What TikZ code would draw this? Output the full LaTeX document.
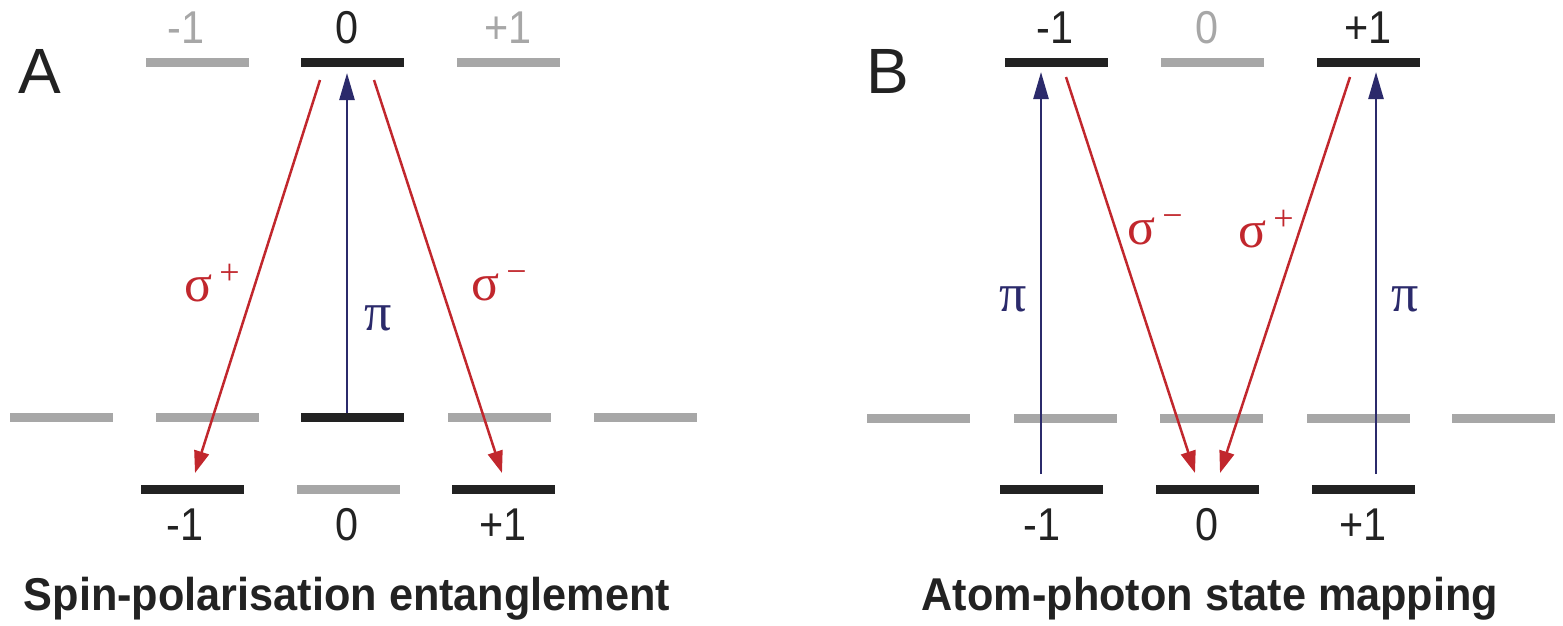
\documentclass[tikz,border=0pt]{standalone}
\usepackage{fontspec}
\setmainfont{Liberation Sans}
\newfontfamily\narrowsans[FakeStretch=0.9]{Liberation Sans}
\newfontfamily\grk{Liberation Serif}
\usetikzlibrary{arrows.meta}
\definecolor{lvgray}{HTML}{A7A7A7}
\definecolor{lvblack}{HTML}{222222}
\definecolor{arred}{HTML}{C1272D}
\definecolor{arblue}{HTML}{2B2A6B}
\newcommand{\sig}[1]{{\grk\fontsize{52}{52}\selectfont σ\hspace{7pt}\raisebox{17pt}{\fontsize{36}{36}\selectfont #1}}}
\tikzset{
  lvl/.style={draw=none, fill=#1, minimum width=103pt, minimum height=9pt, inner sep=0pt, outer sep=0pt},
  lvl/.default=lvblack,
  mlab/.style={font=\narrowsans\fontsize{46}{46}\selectfont, text=#1, inner sep=0pt, anchor=base},
  mlab/.default=lvblack,
  redarr/.style={draw=arred, line width=2.5pt, -{Triangle[length=22pt,width=15pt]}},
  bluearr/.style={draw=arblue, line width=2.5pt, -{Triangle[length=27pt,width=15pt]}},
  redlab/.style={text=arred, inner sep=0pt},
  bluelab/.style={text=arblue, inner sep=0pt, font=\grk\fontsize{54}{54}\selectfont},
  panel/.style={font=\fontsize{64}{64}\selectfont, text=lvblack, inner sep=0pt, anchor=base},
  title/.style={font=\bfseries\fontsize{46}{46}\selectfont, text=lvblack, inner sep=0pt, anchor=base}
}
\begin{document}
\begin{tikzpicture}[x=1pt,y=-1pt]
\useasboundingbox (0,0) rectangle (1563,625);
% ---------- Panel A ----------
\node[panel] (pA) at (40,93) {A};
\node[lvl=lvgray] (At1) at (197,62) {};
\node[lvl] (At0) at (352,62) {};
\node[lvl=lvgray] (Atp) at (508,62) {};
\node[mlab=lvgray] (Lt1) at (186,43) {-1};
\node[mlab] (Lt0) at (347,43) {0};
\node[mlab=lvgray] (Ltp) at (508,43) {+1};
\node[lvl=lvgray] (Am1) at (61,417) {};
\node[lvl=lvgray] (Am2) at (207,417) {};
\node[lvl] (Am3) at (352,417) {};
\node[lvl=lvgray] (Am4) at (499,417) {};
\node[lvl=lvgray] (Am5) at (645,417) {};
\node[lvl] (Ab1) at (192,489) {};
\node[lvl=lvgray] (Ab0) at (348,489) {};
\node[lvl] (Abp) at (503,489) {};
\node[mlab] (Lb1) at (185,540) {-1};
\node[mlab] (Lb0) at (347,540) {0};
\node[mlab] (Lbp) at (503,540) {+1};
\coordinate (a1s) at (320,80);
\coordinate (a1e) at (195,473);
\coordinate (a2s) at (374,80);
\coordinate (a2e) at (502,473);
\coordinate (a3s) at (347,413);
\coordinate (a3e) at (347,73);
\draw[redarr] (a1s) -- (a1e);
\draw[redarr] (a2s) -- (a2e);
\draw[bluearr] (a3s) -- (a3e);
\node[redlab] (sA1) at (212,283) {\sig{+}};
\node[redlab] (sA2) at (499,286) {\sig{−}};
\node[bluelab] (pA1) at (378,318) {π};
\node[title, xscale=0.94] (tA) at (347,610) {Spin-polarisation entanglement};
% ---------- Panel B ----------
\node[panel] (pB) at (888,93) {B};
\node[lvl] (Bt1) at (1056,62) {};
\node[lvl=lvgray] (Bt0) at (1212,62) {};
\node[lvl] (Btp) at (1368,62) {};
\node[mlab] (Mt1) at (1055,43) {-1};
\node[mlab=lvgray] (Mt0) at (1207,43) {0};
\node[mlab] (Mtp) at (1368,43) {+1};
\node[lvl=lvgray] (Bm1) at (918,418) {};
\node[lvl=lvgray] (Bm2) at (1065,418) {};
\node[lvl=lvgray] (Bm3) at (1211,418) {};
\node[lvl=lvgray] (Bm4) at (1358,418) {};
\node[lvl=lvgray] (Bm5) at (1503,418) {};
\node[lvl] (Bb1) at (1051,489) {};
\node[lvl] (Bb0) at (1207,489) {};
\node[lvl] (Bbp) at (1363,489) {};
\node[mlab] (Mb1) at (1042,540) {-1};
\node[mlab] (Mb0) at (1207,540) {0};
\node[mlab] (Mbp) at (1363,540) {+1};
\coordinate (b1s) at (1041,474);
\coordinate (b1e) at (1041,72);
\coordinate (b2s) at (1376,474);
\coordinate (b2e) at (1376,72);
\coordinate (b3s) at (1066,77);
\coordinate (b3e) at (1195,473);
\coordinate (b4s) at (1350,77);
\coordinate (b4e) at (1220,473);
\draw[bluearr] (b1s) -- (b1e);
\draw[bluearr] (b2s) -- (b2e);
\draw[redarr] (b3s) -- (b3e);
\draw[redarr] (b4s) -- (b4e);
\node[bluelab] (pB1) at (1013,299) {π};
\node[bluelab] (pB2) at (1405,299) {π};
\node[redlab] (sB1) at (1155,230) {\sig{−}};
\node[redlab] (sB2) at (1266,229) {\sig{+}};
\node[title, xscale=0.94] (tB) at (1210,610) {Atom-photon state mapping};
\end{tikzpicture}
\end{document}
